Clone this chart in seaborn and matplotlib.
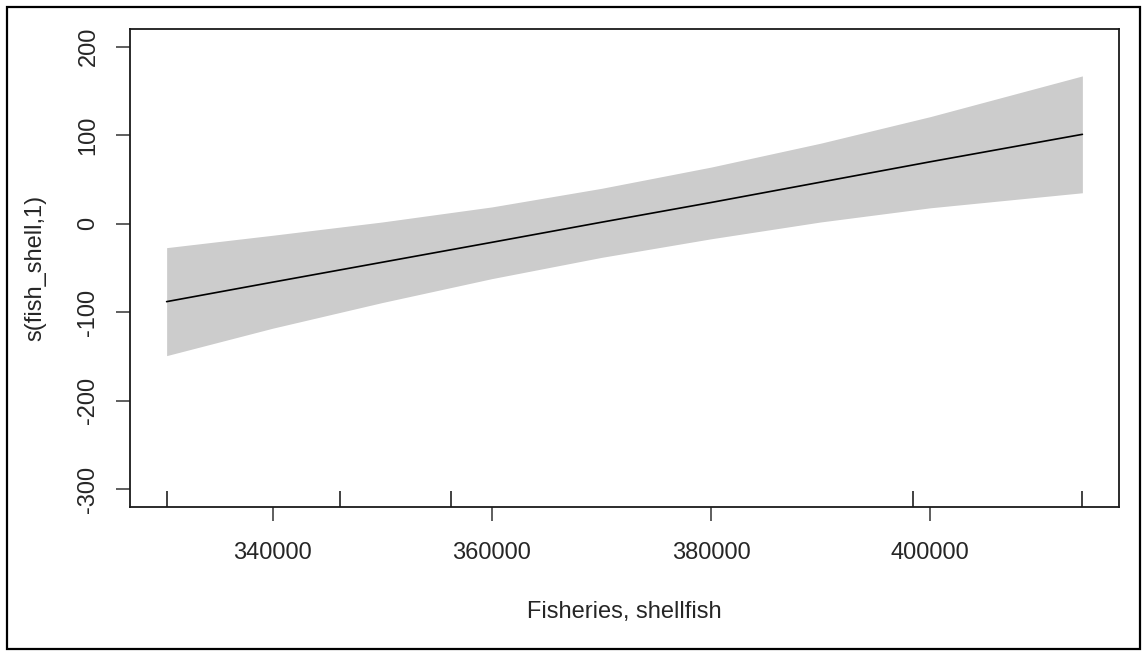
import matplotlib
matplotlib.use("Agg")
import matplotlib.pyplot as plt
import numpy as np
import pandas as pd
import seaborn as sns
from matplotlib.patches import Rectangle


# smooth term estimate
fish_shell = [330320, 340000, 350000, 360000, 370000, 380000, 390000, 400000, 413881]
fit = [-88, -66, -43.5, -21, 1.7, 24, 47, 70, 101]
upper = [-27, -13, 2, 19, 40, 64, 91, 121, 167]
lower = [-149, -118, -89, -62, -38, -17, 2, 18, 35]

# observed covariate values (rug)
rug_values = [330320, 346100, 356250, 398450, 413880]

x_ticks = [340000, 360000, 380000, 400000]
y_ticks = [-300, -200, -100, 0, 100, 200]

TEXT_COLOR = "#262626"
BAND_COLOR = "#cccccc"


def main() -> None:
    sns.set_theme(style="ticks")
    plt.rcParams["font.family"] = ["Liberation Sans", "DejaVu Sans"]
    plt.rcParams["font.size"] = 17

    df = pd.DataFrame({"x": fish_shell, "fit": fit, "upper": upper, "lower": lower})

    fig = plt.figure(figsize=(11.47, 6.56), dpi=100)
    ax = fig.add_axes([130 / 1147, 149 / 656, 989 / 1147, 478 / 656])

    ax.fill_between(df["x"], df["lower"], df["upper"], color=BAND_COLOR, linewidth=0)
    sns.lineplot(data=df, x="x", y="fit", ax=ax, color="black", linewidth=1.2)
    sns.rugplot(x=rug_values, ax=ax, height=0.033, color="#333333", linewidth=1.3)

    ax.set_xlim(326978, 417223)
    ax.set_ylim(-320, 220)
    ax.set_xticks(x_ticks)
    ax.set_yticks(y_ticks)
    ax.set_xticklabels([str(v) for v in x_ticks])
    ax.set_yticklabels([str(v) for v in y_ticks], rotation=90, va="center")

    for spine in ax.spines.values():
        spine.set_visible(True)
        spine.set_color("#1a1a1a")
        spine.set_linewidth(1.3)

    ax.tick_params(axis="both", length=10, width=1.1, color="#333333",
                   labelcolor=TEXT_COLOR, labelsize=17)
    ax.tick_params(axis="x", pad=15)
    ax.tick_params(axis="y", pad=12)

    ax.set_xlabel("Fisheries, shellfish", color=TEXT_COLOR, fontsize=17)
    ax.set_ylabel("s(fish_shell,1)", color=TEXT_COLOR, fontsize=17)
    ax.xaxis.set_label_coords(0.5, (507 - 612) / 478)
    ax.xaxis.label.set_va("center")
    ax.yaxis.set_label_coords((35 - 130) / 989, 0.5)
    ax.yaxis.label.set_va("center")

    # outer frame round the whole picture
    fig.patches.append(Rectangle((7 / 1147, 7 / 656), 1133 / 1147, 642 / 656,
                                 transform=fig.transFigure, fill=False,
                                 edgecolor="black", linewidth=1.6))

    fig.savefig("out.png", dpi=100)
    plt.close(fig)


if __name__ == "__main__":
    main()
